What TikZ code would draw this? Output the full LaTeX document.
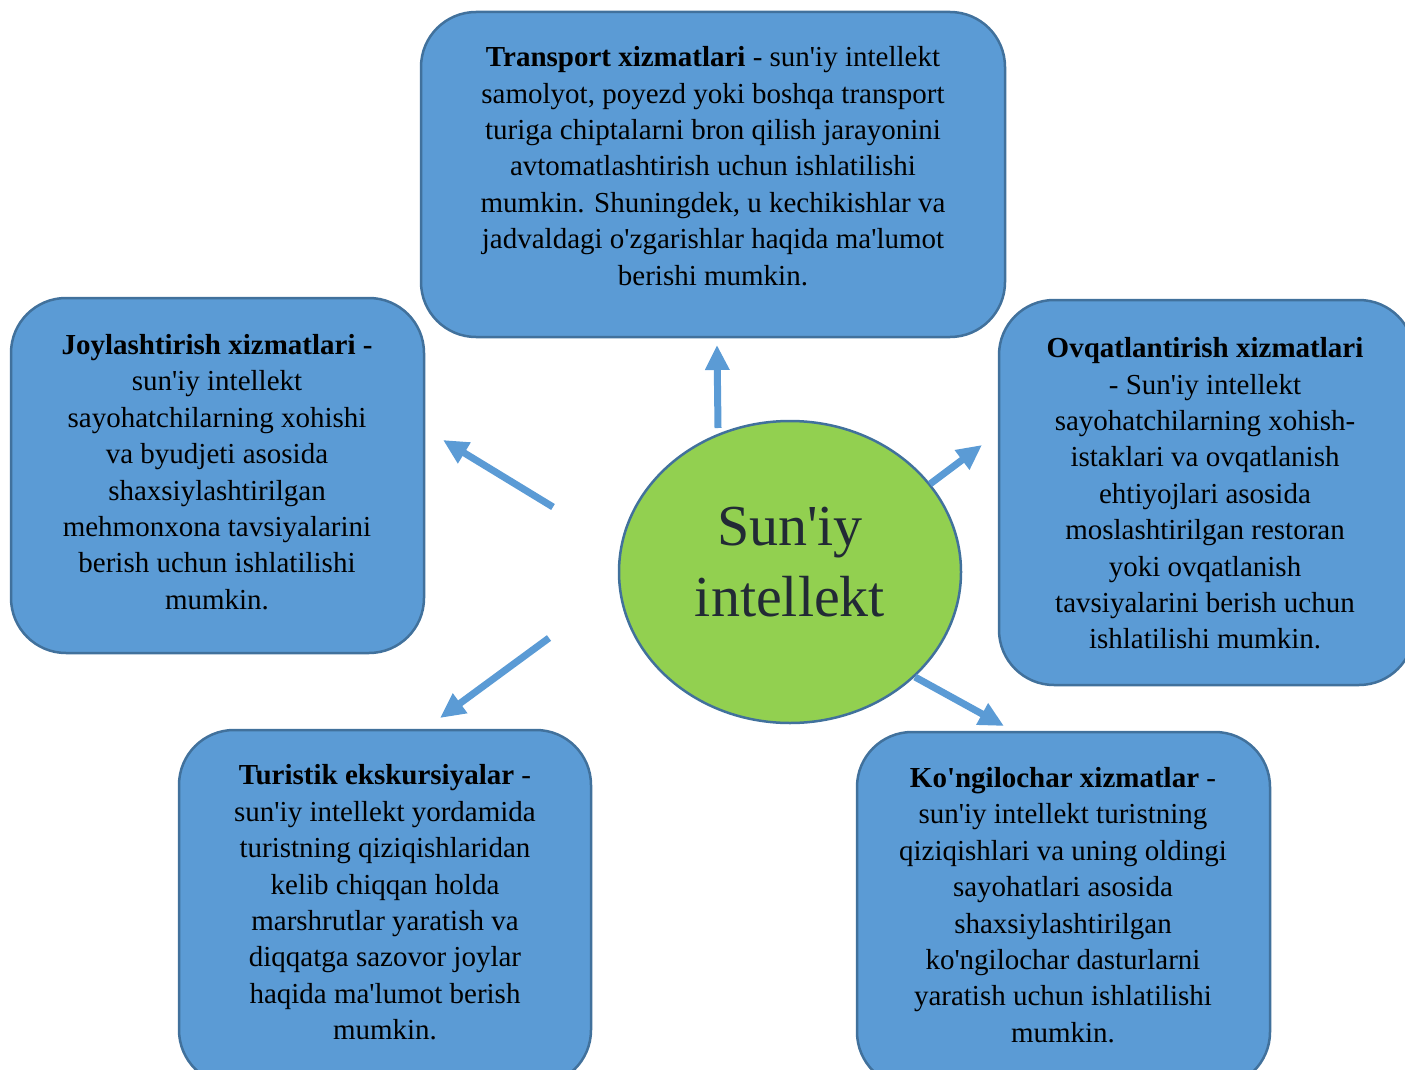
\documentclass[tikz,border=0pt]{standalone}
\usepackage{fontspec}
\setmainfont{Liberation Serif}[Ligatures=TeXOff]
\usetikzlibrary{shapes.geometric,arrows.meta}
\definecolor{boxfill}{HTML}{5B9BD5}
\definecolor{boxline}{HTML}{41719C}
\definecolor{ellfill}{HTML}{92D050}
\definecolor{ctext}{HTML}{222A35}
\tikzset{
  infobox/.style={draw=boxline, fill=boxfill, line width=2.5pt, rounded corners=55pt, inner sep=0pt},
  infotext/.style={align=center, inner sep=0pt, text=black, font=\fontsize{29}{36.4}\selectfont},
  centre/.style={ellipse, draw=boxline, fill=ellfill, line width=2.5pt, inner sep=0pt, minimum width=342pt, minimum height=302pt},
  arr/.style={draw=boxfill, line width=7pt, -{Triangle[length=25pt,width=23pt]}}
}
\begin{document}
\begin{tikzpicture}[x=1pt,y=-1pt]
\useasboundingbox (0,0) rectangle (1405,1070);
% boxes
\node[infobox, minimum width=584pt, minimum height=325pt] (top) at (713,174.5) {};
\node[infobox, minimum width=413pt, minimum height=355pt] (left) at (217.5,475.5) {};
\node[infobox, minimum width=415pt, minimum height=385pt] (right) at (1206.5,492.5) {};
\node[infobox, minimum width=412pt, minimum height=355pt] (bleft) at (385,907.5) {};
\node[infobox, minimum width=413pt, minimum height=355pt] (bright) at (1063.5,909.5) {};
% centre
\node[centre] (c) at (790,572) {};
\node[align=center, inner sep=0pt, text=ctext, font=\fontsize{58}{71}\selectfont] (ctxt) at (790,562.5) {Sun'iy\\intellekt};
% texts
\node[infotext] (ttop) at (713,166) {\textbf{Transport xizmatlari} - sun'iy intellekt\\
samolyot, poyezd yoki boshqa transport\\
turiga chiptalarni bron qilish jarayonini\\
avtomatlashtirish uchun ishlatilishi\\
mumkin. Shuningdek, u kechikishlar va\\
jadvaldagi o'zgarishlar haqida ma'lumot\\
berishi mumkin.};
\node[infotext] (tleft) at (217,472) {\textbf{Joylashtirish xizmatlari -}\\
sun'iy intellekt\\
sayohatchilarning xohishi\\
va byudjeti asosida\\
shaxsiylashtirilgan\\
mehmonxona tavsiyalarini\\
berish uchun ishlatilishi\\
mumkin.};
\node[infotext] (tright) at (1205,493.5) {\textbf{Ovqatlantirish xizmatlari}\\
- Sun'iy intellekt\\
sayohatchilarning xohish-\\
istaklari va ovqatlanish\\
ehtiyojlari asosida\\
moslashtirilgan restoran\\
yoki ovqatlanish\\
tavsiyalarini berish uchun\\
ishlatilishi mumkin.};
\node[infotext] (tbleft) at (385,902.5) {\textbf{Turistik ekskursiyalar} -\\
sun'iy intellekt yordamida\\
turistning qiziqishlaridan\\
kelib chiqqan holda\\
marshrutlar yaratish va\\
diqqatga sazovor joylar\\
haqida ma'lumot berish\\
mumkin.};
\node[infotext] (tbright) at (1063,905) {\textbf{Ko'ngilochar xizmatlar} -\\
sun'iy intellekt turistning\\
qiziqishlari va uning oldingi\\
sayohatlari asosida\\
shaxsiylashtirilgan\\
ko'ngilochar dasturlarni\\
yaratish uchun ishlatilishi\\
mumkin.};
% arrow end points
\coordinate (a1s) at (718,428); \coordinate (a1e) at (717,345);
\coordinate (a2s) at (553,507); \coordinate (a2e) at (443,440);
\coordinate (a3s) at (930,484); \coordinate (a3e) at (982,445);
\coordinate (a4s) at (549,638); \coordinate (a4e) at (440,718);
\coordinate (a5s) at (915,677); \coordinate (a5e) at (1004,726);
\draw[arr] (a1s) -- (a1e);
\draw[arr] (a2s) -- (a2e);
\draw[arr] (a3s) -- (a3e);
\draw[arr] (a4s) -- (a4e);
\draw[arr] (a5s) -- (a5e);
\end{tikzpicture}
\end{document}
